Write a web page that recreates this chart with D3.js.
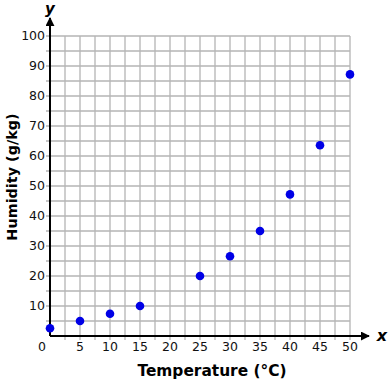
<!DOCTYPE html>
<meta charset="utf-8">
<script src="https://d3js.org/d3.v7.min.js"></script>
<style>
  body { margin: 0; background: #fff; }
  text { font-family: "DejaVu Sans", Verdana, sans-serif; }
</style>
<div id="chart"></div>
<script>
// data
var temperature = [0, 5, 10, 15, 25, 30, 35, 40, 45, 50];
var humidity = [2.6, 5, 7.4, 10, 20, 26.6, 35, 47.2, 63.6, 87.2];
var xTicks = [0, 5, 10, 15, 20, 25, 30, 35, 40, 45, 50];
var yTicks = [10, 20, 30, 40, 50, 60, 70, 80, 90, 100];

var W = 391, H = 380;
var margin = {top: 36, right: 41, bottom: 44, left: 50};
var width = W - margin.left - margin.right,
    height = H - margin.top - margin.bottom;

var svg = d3.select("#chart").append("svg")
    .attr("width", W)
    .attr("height", H);

var g = svg.append("g")
    .attr("transform", "translate(" + margin.left + "," + margin.top + ")");

var x = d3.scaleLinear().domain([0, 50]).range([0, width]);
var y = d3.scaleLinear().domain([0, 100]).range([height, 0]);

// grid
var gridX = d3.range(2.5, 50.01, 2.5);
var gridY = d3.range(5, 100.01, 5);
g.selectAll(".gx").data(gridX).enter().append("line")
    .attr("x1", d => x(d)).attr("x2", d => x(d))
    .attr("y1", 0).attr("y2", height + 4)
    .attr("stroke", "#b4b4b4").attr("stroke-width", 1.3);
g.selectAll(".gy").data(gridY).enter().append("line")
    .attr("x1", -4).attr("x2", width)
    .attr("y1", d => y(d)).attr("y2", d => y(d))
    .attr("stroke", "#b4b4b4").attr("stroke-width", 1.3);

// arrow heads
svg.append("defs").append("marker")
    .attr("id", "arrow")
    .attr("viewBox", "0 0 10 10")
    .attr("refX", 9).attr("refY", 5)
    .attr("markerWidth", 4.5).attr("markerHeight", 4.5)
    .attr("markerUnits", "strokeWidth")
    .attr("orient", "auto")
  .append("path")
    .attr("d", "M0,0L10,5L0,10z")
    .attr("fill", "#000");

// axes
g.append("line")
    .attr("x1", 0).attr("x2", 0)
    .attr("y1", height).attr("y2", -18)
    .attr("stroke", "#000").attr("stroke-width", 2)
    .attr("marker-end", "url(#arrow)");
g.append("line")
    .attr("x1", 0).attr("x2", width + 19)
    .attr("y1", height).attr("y2", height)
    .attr("stroke", "#000").attr("stroke-width", 2)
    .attr("marker-end", "url(#arrow)");

// tick labels
g.selectAll(".yl").data(yTicks).enter().append("text")
    .attr("x", -5).attr("y", d => y(d))
    .attr("dy", "0.35em")
    .attr("text-anchor", "end")
    .attr("font-size", 12.5)
    .attr("fill", "#111")
    .text(d => d);
g.selectAll(".xl").data(xTicks).enter().append("text")
    .attr("x", d => d === 0 ? x(d) - 8 : x(d))
    .attr("y", height + 15)
    .attr("text-anchor", "middle")
    .attr("font-size", 12.5)
    .attr("fill", "#111")
    .text(d => d);

// axis letters
g.append("text")
    .attr("x", 0).attr("y", -22)
    .attr("text-anchor", "middle")
    .attr("font-size", 15).attr("font-weight", "bold").attr("font-style", "italic")
    .text("y");
g.append("text")
    .attr("x", width + 32).attr("y", height + 5)
    .attr("text-anchor", "middle")
    .attr("font-size", 16).attr("font-weight", "bold").attr("font-style", "italic")
    .text("x");

// axis titles
svg.append("text")
    .attr("x", 212)
    .attr("y", 376)
    .attr("text-anchor", "middle")
    .attr("font-size", 15.4).attr("font-weight", "bold")
    .text("Temperature (\u00B0C)");
svg.append("text")
    .attr("transform", "translate(17,177) rotate(-90)")
    .attr("text-anchor", "middle")
    .attr("font-size", 14.4).attr("font-weight", "bold")
    .text("Humidity (g/kg)");

// points
var pts = temperature.map((t, i) => ({t: t, h: humidity[i]}));
g.selectAll("circle").data(pts).enter().append("circle")
    .attr("cx", d => x(d.t))
    .attr("cy", d => y(d.h))
    .attr("r", 4.3)
    .attr("fill", "#0000e6");
</script>
